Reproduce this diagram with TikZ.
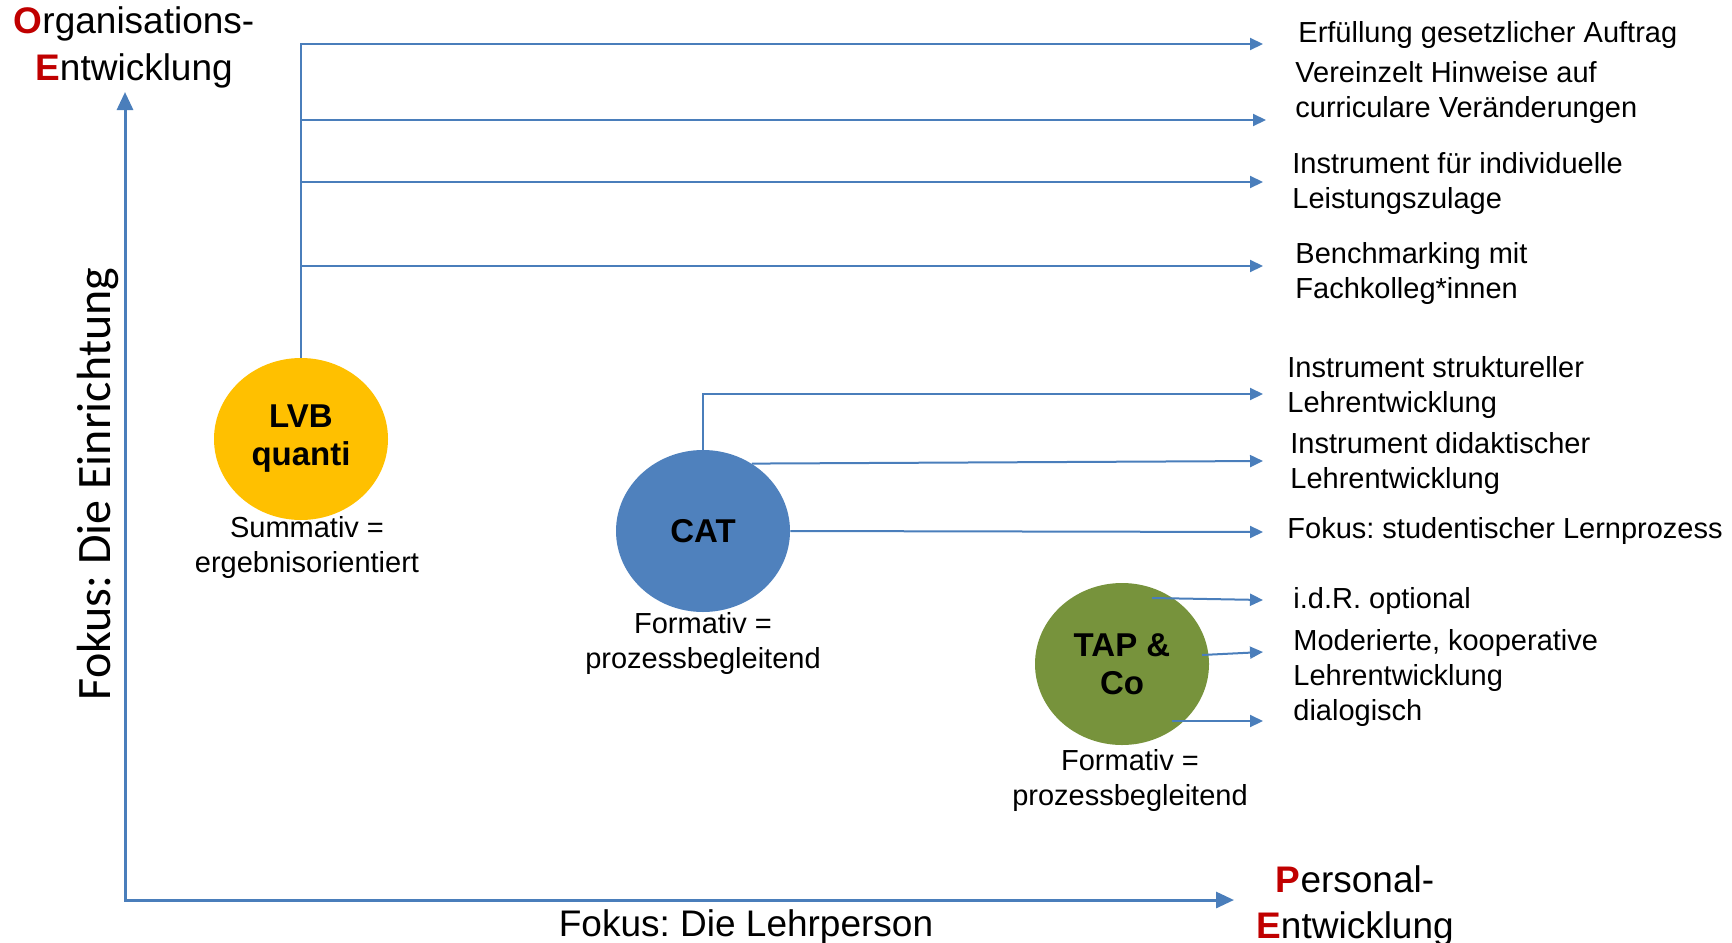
\documentclass[tikz,border=0pt]{standalone}
\usepackage{fontspec}
\setmainfont{Liberation Sans}
\newfontfamily\calib{Carlito}
\usetikzlibrary{arrows.meta,shapes.geometric}
\definecolor{lineblue}{HTML}{4A7EBB}
\definecolor{oered}{HTML}{C00000}
\definecolor{lvbfill}{HTML}{FFC000}
\definecolor{catfill}{HTML}{4F81BD}
\definecolor{tapfill}{HTML}{77933C}
\frenchspacing
\begin{document}
\begin{tikzpicture}[x=0.5pt,y=-0.5pt,
  bubble/.style={ellipse, minimum width=87pt, minimum height=81pt, inner sep=0pt, align=center, font=\fontsize{16.5}{19}\selectfont\bfseries},
  item/.style={anchor=base west, inner sep=0pt, font=\fontsize{14.5}{17.5}\selectfont},
  caption/.style={anchor=base, inner sep=0pt, font=\fontsize{14.5}{17.5}\selectfont},
  branch/.style={draw=lineblue, line width=1pt, -{Triangle[length=6.5pt,width=6pt]}},
  axis/.style={draw=lineblue, line width=1.5pt, {Triangle[length=9pt,width=8pt]}-{Triangle[length=9pt,width=8pt]}},
  bigl/.style={anchor=base, inner sep=0pt}
]
\useasboundingbox (0,0) rectangle (1732,942);

% bubbles
\node[bubble, fill=lvbfill] (lvb) at (301,439) {LVB\\quanti};
\node[bubble, fill=catfill] (cat) at (703,531) {CAT};
\node[bubble, fill=tapfill] (tap) at (1122,664) {TAP \&\\Co};

% captions
\node[caption] (lvbcap) at (307,537) {\begin{tabular}[t]{@{}c@{}}Summativ =\\ergebnisorientiert\end{tabular}};
\node[caption] (catcap) at (703,633) {\begin{tabular}[t]{@{}c@{}}Formativ =\\prozessbegleitend\end{tabular}};
\node[caption] (tapcap) at (1130,770) {\begin{tabular}[t]{@{}c@{}}Formativ =\\prozessbegleitend\end{tabular}};

% right items
\node[item] (t1) at (1298,42) {Erfüllung gesetzlicher Auftrag};
\node[item] (t2) at (1295,82) {\begin{tabular}[t]{@{}l@{}}Vereinzelt Hinweise auf\\curriculare Veränderungen\end{tabular}};
\node[item] (t3) at (1292,173) {\begin{tabular}[t]{@{}l@{}}Instrument für individuelle\\Leistungszulage\end{tabular}};
\node[item] (t4) at (1295,263) {\begin{tabular}[t]{@{}l@{}}Benchmarking mit\\Fachkolleg*innen\end{tabular}};
\node[item] (t5) at (1287,377) {\begin{tabular}[t]{@{}l@{}}Instrument struktureller\\Lehrentwicklung\end{tabular}};
\node[item] (t6) at (1290,453) {\begin{tabular}[t]{@{}l@{}}Instrument didaktischer\\Lehrentwicklung\end{tabular}};
\node[item] (t7) at (1287,538) {Fokus: studentischer Lernprozess};
\node[item] (t8) at (1293,608) {i.d.R. optional};
\node[item] (t9) at (1293,650) {\begin{tabular}[t]{@{}l@{}}Moderierte, kooperative\\Lehrentwicklung\\dialogisch\end{tabular}};

% arrow tips
\coordinate (e1) at (1263,44);
\coordinate (e2) at (1266,120);
\coordinate (e3) at (1263,182);
\coordinate (e4) at (1263,266);
\coordinate (c1) at (1263,394);
\coordinate (c2) at (1263,461);
\coordinate (c3) at (1263,532);
\coordinate (p1) at (1263,600);
\coordinate (p2) at (1263,652);
\coordinate (p3) at (1263,721);

\draw[branch] (lvb.north) |- (e1);
\draw[branch] (lvb.north |- e2) -- (e2);
\draw[branch] (lvb.north |- e3) -- (e3);
\draw[branch] (lvb.north |- e4) -- (e4);
\draw[branch] (cat.north) |- (c1);
\draw[branch] (cat.54) -- (c2);
\draw[branch] (cat.east) -- (c3);
\draw[branch] ([shift={(30,-66)}]tap.center) -- (p1);
\draw[branch] ([shift={(80,-9)}]tap.center) -- (p2);
\draw[branch] ([shift={(50,57)}]tap.center) -- (p3);

% axes
\coordinate (origin) at (125,900);
\coordinate (ytip) at (125,92);
\coordinate (xtip) at (1234,900);
\draw[axis] (ytip) -- (origin) -- (xtip);

% axis labels
\node[bigl, font=\fontsize{18.5}{23.5}\selectfont] (oe) at (134,33) {\begin{tabular}[t]{@{}c@{}}{\color{oered}\bfseries O}rganisations-\\{\color{oered}\bfseries E}ntwicklung\end{tabular}};
\node[bigl, font=\fontsize{18.5}{23}\selectfont] (pe) at (1355,892) {\begin{tabular}[t]{@{}c@{}}{\color{oered}\bfseries P}ersonal-\\{\color{oered}\bfseries E}ntwicklung\end{tabular}};
\node[bigl, font=\fontsize{18.5}{22}\selectfont] (xlab) at (746,936) {Fokus: Die Lehrperson};
\node[bigl, rotate=90, font=\calib\fontsize{24}{28}\selectfont] (ylab) at (110,484) {Fokus: Die Einrichtung};
\end{tikzpicture}
\end{document}
